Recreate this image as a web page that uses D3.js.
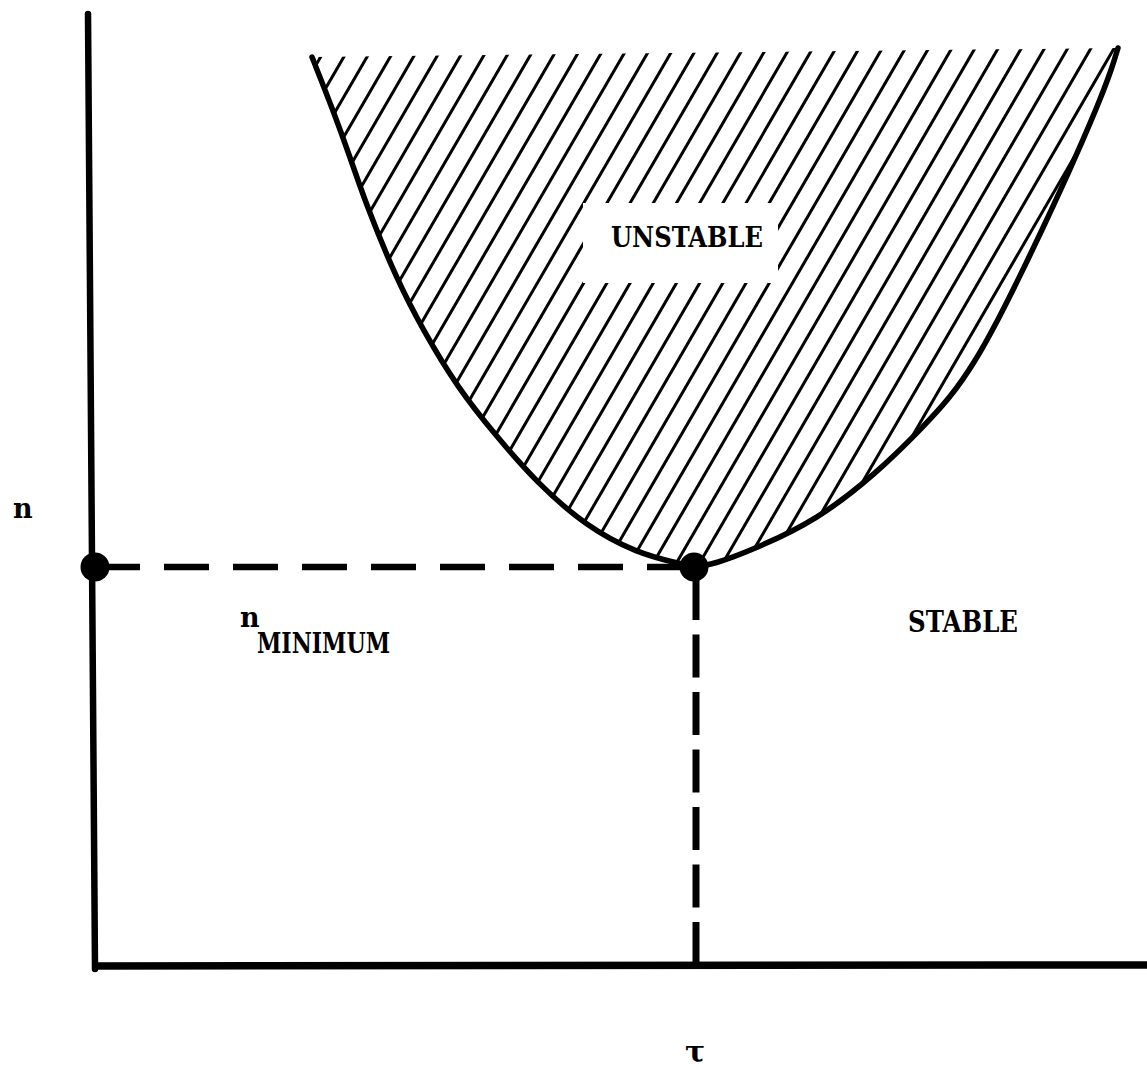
<!DOCTYPE html>
<html>
<head>
<meta charset="utf-8">
<script src="https://cdn.jsdelivr.net/npm/d3@7"></script>
<style>
  html, body { margin: 0; padding: 0; background: #fff; }
  svg { display: block; }
  .label { font-family: "DejaVu Serif", "Liberation Serif", serif; font-weight: bold; fill: #000; }
</style>
</head>
<body>
<svg id="stability-chart"></svg>
<script>
// stability boundary n(tau) (left tip -> minimum -> right tip)
var curveTau = [21.8, 23.9, 25.6, 27.3, 30.3, 32.9, 36.3, 40.3, 44.3, 49.3, 54.3, 58.3, 60.0,
                61.8, 66.3, 72.3, 78.3, 82.9, 85.6, 88.1, 90.4, 92.6, 94.8, 96.8, 98.9, 100.6, 101.8, 102.4];
var curveN   = [90.9, 85.6, 80.9, 75.9, 68.6, 63.6, 57.9, 52.9, 48.3, 43.9, 41.3, 40.3, 39.9,
                40.1, 41.8, 44.6, 49.3, 53.9, 56.8, 60.4, 64.6, 69.0, 73.6, 77.9, 82.6, 86.6, 89.8, 91.8];

// the minimum of the boundary
var tauMin = 60.0;
var nMin = 39.9;

// text labels
var regionLabels = ["UNSTABLE", "STABLE"];
var axisLabels = ["n", "\u03c4"];
var minLabel = ["n", "MINIMUM"];

var width = 1147, height = 1070;

// set the ranges (1 unit = 10px)
var x = d3.scaleLinear().domain([0, 105.3]).range([94, 1147]);
var y = d3.scaleLinear().domain([0, 95.2]).range([966, 14]);

var data = curveTau.map(function(t, i) { return {tau: t, n: curveN[i]}; });

var svg = d3.select("svg#stability-chart")
    .attr("width", width)
    .attr("height", height);

// define the boundary line
var boundary = d3.line()
    .x(function(d) { return x(d.tau); })
    .y(function(d) { return y(d.n); })
    .curve(d3.curveBasis);

// clip for the hatched (unstable) region
svg.append("clipPath")
    .attr("id", "unstable-clip")
  .append("path")
    .attr("d", boundary(data) + "Z");

// hatching, slanted ~60 degrees
var hatch = svg.append("g")
    .attr("clip-path", "url(#unstable-clip)");

var step = 23.19, slope = 0.58, topY = 48;
hatch.selectAll("line")
    .data(d3.range(-4, 40))
    .enter().append("line")
    .attr("x1", function(k) { return 349 + k * step + 10 * slope; })
    .attr("y1", topY - 10)
    .attr("x2", function(k) { return 349 + k * step - (600 - topY) * slope; })
    .attr("y2", 600)
    .attr("stroke", "#000")
    .attr("stroke-width", 3);

// white box behind UNSTABLE
svg.append("rect")
    .attr("x", 583)
    .attr("y", 203)
    .attr("width", 195)
    .attr("height", 80)
    .attr("fill", "#fff");

// add the boundary path
svg.append("path")
    .datum(data)
    .attr("d", boundary)
    .attr("fill", "none")
    .attr("stroke", "#000")
    .attr("stroke-width", 5.5)
    .attr("stroke-linecap", "round")
    .attr("stroke-linejoin", "round");

// dashed line to the y axis
svg.append("line")
    .attr("x1", x(0) + 1)
    .attr("y1", y(nMin))
    .attr("x2", x(tauMin))
    .attr("y2", y(nMin))
    .attr("stroke", "#000")
    .attr("stroke-width", 6.5)
    .attr("stroke-dasharray", "45,24");

// dashed line down to the x axis
svg.append("line")
    .attr("x1", x(tauMin) + 2)
    .attr("y1", y(nMin) + 10)
    .attr("x2", x(tauMin) + 2)
    .attr("y2", y(0))
    .attr("stroke", "#000")
    .attr("stroke-width", 7)
    .attr("stroke-dasharray", "43,14.5");

// add the Y Axis (hand drawn, slightly leaning)
svg.append("line")
    .attr("x1", x(0) - 6)
    .attr("y1", y(95.2))
    .attr("x2", x(0) + 1)
    .attr("y2", y(0) + 3)
    .attr("stroke", "#000")
    .attr("stroke-width", 6.5)
    .attr("stroke-linecap", "round");

// add the X Axis
svg.append("line")
    .attr("x1", x(0) - 2)
    .attr("y1", y(0))
    .attr("x2", x(105.3))
    .attr("y2", y(0) - 1)
    .attr("stroke", "#000")
    .attr("stroke-width", 7.5);

// the two dots
svg.selectAll("circle.dot")
    .data([{tau: 0.1, n: nMin}, {tau: tauMin, n: nMin}])
    .enter().append("circle")
    .attr("class", "dot")
    .attr("cx", function(d) { return x(d.tau); })
    .attr("cy", function(d) { return y(d.n); })
    .attr("r", 14.5)
    .attr("fill", "#000");

// labels
svg.append("text").attr("class", "label")
    .attr("x", 611).attr("y", 247)
    .attr("textLength", 152).attr("lengthAdjust", "spacingAndGlyphs")
    .style("font-size", "27px")
    .text(regionLabels[0]);

svg.append("text").attr("class", "label")
    .attr("x", 908).attr("y", 632)
    .attr("textLength", 110).attr("lengthAdjust", "spacingAndGlyphs")
    .style("font-size", "29px")
    .text(regionLabels[1]);

svg.append("text").attr("class", "label")
    .attr("x", 13).attr("y", 518)
    .style("font-size", "27px")
    .text(axisLabels[0]);

svg.append("text").attr("class", "label")
    .attr("x", 695).attr("y", 1062)
    .attr("text-anchor", "middle")
    .style("font-size", "30px")
    .text(axisLabels[1]);

svg.append("text").attr("class", "label")
    .attr("x", 240).attr("y", 627)
    .style("font-size", "27px")
    .text(minLabel[0]);

svg.append("text").attr("class", "label")
    .attr("x", 257).attr("y", 653)
    .attr("textLength", 133).attr("lengthAdjust", "spacingAndGlyphs")
    .style("font-size", "27px")
    .text(minLabel[1]);
</script>
</body>
</html>
